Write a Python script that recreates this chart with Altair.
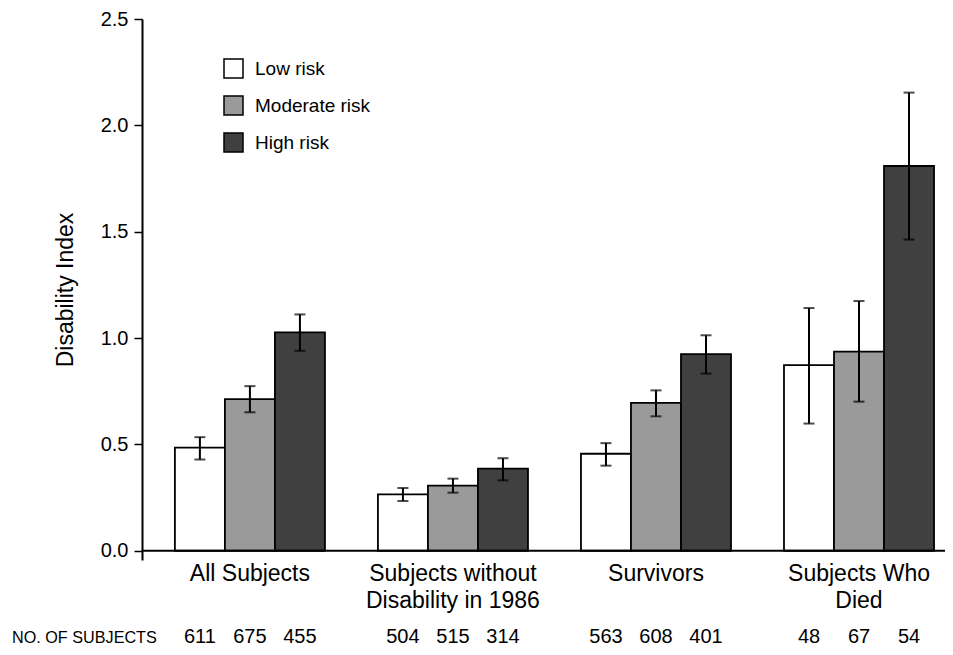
import altair as alt
import pandas as pd

categories = ["All Subjects", "Subjects without|Disability in 1986", "Survivors", "Subjects Who|Died"]
risks = ["Low risk", "Moderate risk", "High risk"]
colors = ["#ffffff", "#9a9a9a", "#404040"]

means = [[0.485, 0.713, 1.027],
         [0.265, 0.306, 0.386],
         [0.456, 0.695, 0.924],
         [0.873, 0.936, 1.809]]
lows = [[0.429, 0.651, 0.940],
        [0.234, 0.273, 0.331],
        [0.400, 0.632, 0.833],
        [0.598, 0.701, 1.463]]
highs = [[0.534, 0.774, 1.111],
         [0.295, 0.339, 0.435],
         [0.506, 0.754, 1.013],
         [1.141, 1.174, 2.154]]
counts = [[611, 675, 455],
          [504, 515, 314],
          [563, 608, 401],
          [48, 67, 54]]
y_ticks = [0.0, 0.5, 1.0, 1.5, 2.0, 2.5]
row_label = "NO. OF SUBJECTS"

rows = []
for i, c in enumerate(categories):
    for j, r in enumerate(risks):
        rows.append(dict(group=c, risk=r, mean=means[i][j], lo=lows[i][j],
                         hi=highs[i][j], n=str(counts[i][j])))
df = pd.DataFrame(rows)

FONT = "Liberation Sans"

xenc = alt.X("group:N", sort=categories,
             scale=alt.Scale(paddingInner=0.261, paddingOuter=0.108, align=0.75),
             axis=alt.Axis(title=None, domain=False, ticks=False,
                           labelExpr="split(datum.label, '|')",
                           labelFontSize=23, labelColor="black", labelPadding=2,
                           labelLineHeight=27, labelAngle=0, labelBaseline="top"))
xoff = alt.XOffset("risk:N", sort=risks, scale=alt.Scale(paddingInner=0, paddingOuter=0))
yscale = alt.Scale(domain=[-0.0435, 2.5], nice=False, zero=False)

base = alt.Chart(df)

bars = base.mark_bar(stroke="black", strokeWidth=1.8).encode(
    x=xenc, xOffset=xoff,
    y=alt.Y("mean:Q", scale=yscale,
            axis=alt.Axis(values=y_ticks, format=".1f", tickSize=8, tickWidth=1.5,
                          tickColor="black", domainColor="black", domainWidth=2,
                          labelFontSize=20, labelColor="black", labelPadding=6,
                          labelFlush=False, grid=False,
                          title="Disability Index", titleFontSize=23,
                          titleFontWeight="normal", titleColor="black",
                          titlePadding=23)),
    y2=alt.datum(0),
    color=alt.Color("risk:N", sort=risks,
                    scale=alt.Scale(domain=risks, range=colors),
                    legend=alt.Legend(orient="none", legendX=81, legendY=39, title=None,
                                      symbolType="square", symbolSize=361,
                                      symbolStrokeColor="black", symbolStrokeWidth=1.5,
                                      symbolOpacity=1,
                                      labelFontSize=19, labelColor="black",
                                      labelOffset=11, rowPadding=12, padding=0)),
)

err = base.mark_rule(color="black", strokeWidth=2).encode(
    x=xenc, xOffset=xoff, y=alt.Y("lo:Q", scale=yscale), y2="hi:Q")
cap_lo = base.mark_tick(color="black", thickness=2, size=11).encode(
    x=xenc, xOffset=xoff, y=alt.Y("lo:Q", scale=yscale))
cap_hi = base.mark_tick(color="black", thickness=2, size=11).encode(
    x=xenc, xOffset=xoff, y=alt.Y("hi:Q", scale=yscale))

zero = alt.Chart(pd.DataFrame({"z": [0]})).mark_rule(color="black", strokeWidth=2).encode(
    y=alt.Y("z:Q", scale=yscale))

nums = base.mark_text(fontSize=20, baseline="alphabetic", color="black").encode(
    x=xenc, xOffset=xoff, y=alt.value(624), text="n:N")

rowlab = alt.Chart(pd.DataFrame({"t": [row_label]})).mark_text(
    align="left", baseline="alphabetic", fontSize=16.2, color="black").encode(
    x=alt.value(-130), y=alt.value(624), text="t:N")

chart = alt.layer(bars, err, cap_lo, cap_hi, zero, nums, rowlab).properties(
    width=803, height=541,
    autosize=alt.AutoSizeParams(type="none"),
    padding={"left": 134, "top": 11, "right": 0, "bottom": 87},
).configure(font=FONT).configure_view(stroke=None)

chart.save("out.html", embed_options={"renderer": "svg", "actions": False})
